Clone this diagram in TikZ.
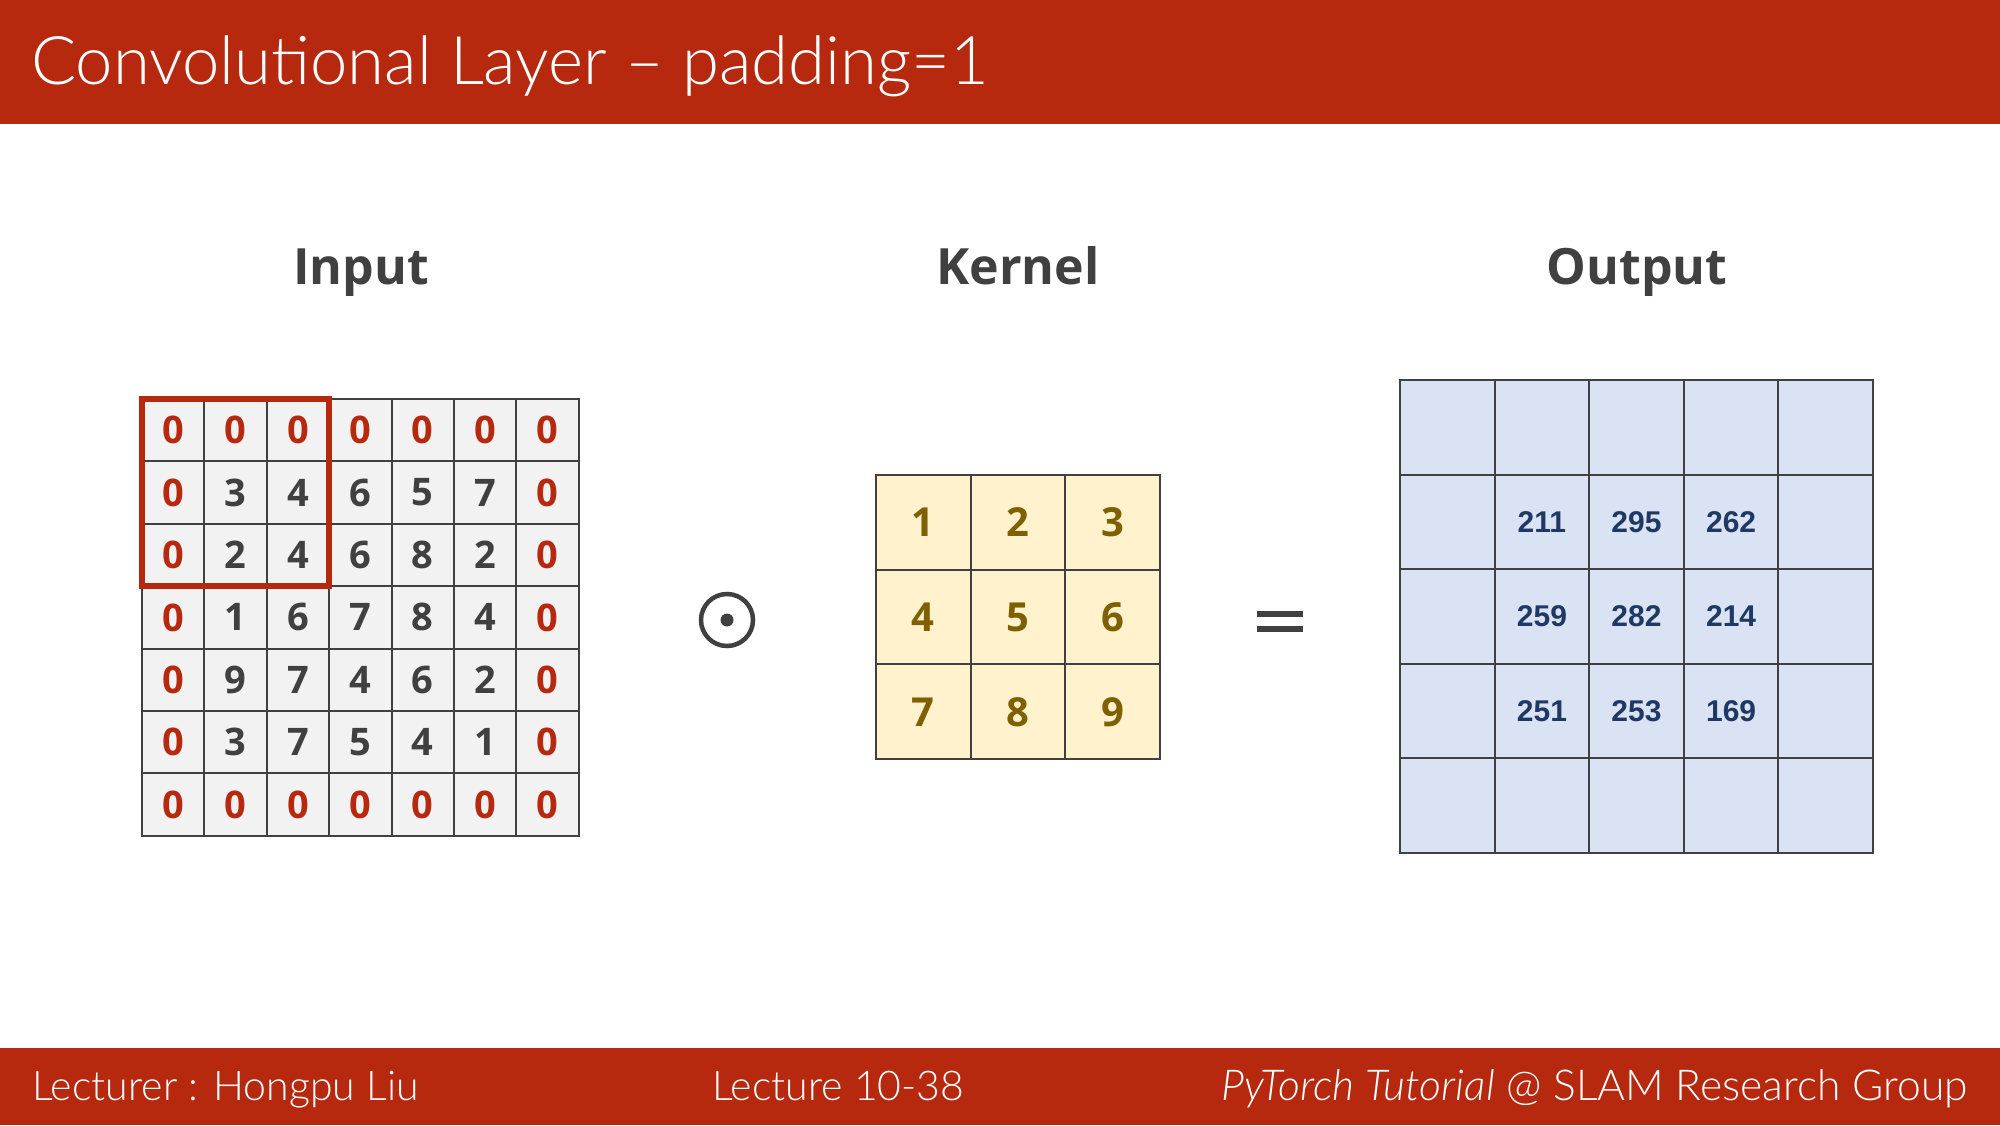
\documentclass[tikz,border=0pt]{standalone}
\usepackage{fontspec}
\setmainfont{Open Sans}
\newfontfamily\thinfont{Lato Light}
\newfontfamily\arialfont{Liberation Sans}
\definecolor{slidered}{RGB}{183,41,15}
\definecolor{inkgray}{RGB}{64,64,64}
\definecolor{inputfill}{RGB}{242,242,242}
\definecolor{kernfill}{RGB}{255,242,204}
\definecolor{kerntext}{RGB}{127,96,0}
\definecolor{outfill}{RGB}{218,227,243}
\definecolor{outtext}{RGB}{32,56,100}
\tikzset{
  cellbase/.style={draw=inkgray, line width=2pt, inner sep=0pt, outer sep=0pt, anchor=center},
  incell/.style={cellbase, fill=inputfill, minimum width=62.4pt, minimum height=62.4pt,
    font=\fontsize{38}{40}\selectfont\bfseries},
  kcell/.style={cellbase, fill=kernfill, minimum width=94.7pt, minimum height=94.7pt,
    text=kerntext, font=\fontsize{40}{42}\selectfont\bfseries},
  ocell/.style={cellbase, fill=outfill, minimum width=94.6pt, minimum height=94.6pt,
    text=outtext, font=\arialfont\fontsize{30}{32}\selectfont\bfseries},
  heading/.style={anchor=base, text=inkgray, font=\fontsize{50}{56}\selectfont\bfseries},
  barText/.style={text=white, inner sep=0pt},
  footText/.style={barText, font=\thinfont\fontsize{41}{48}\selectfont},
  window/.style={draw=slidered, line width=5.5pt}
}
\begin{document}
\begin{tikzpicture}[x=1pt, y=-1pt]
\useasboundingbox (0,0) rectangle (2000,1125);
% title and footer bands
\fill[slidered] (0,0) rectangle (2000,124);
\fill[slidered] (0,1048) rectangle (2000,1125);
\node[barText, anchor=base west, font=\thinfont\fontsize{67}{78}\selectfont] (title) at (31,84)
  {Convolutional Layer \textendash\ padding=1};
\node[footText, anchor=base west] (lecturer) at (32,1100) {Lecturer : Hongpu Liu};
\node[footText, anchor=base west] (lecture) at (712,1100) {Lecture 10-38};
\node[footText, anchor=base east, font=\thinfont\fontsize{42.6}{48}\selectfont] (group) at (1968,1100)
  {\itshape PyTorch Tutorial\upshape\ @ SLAM Research Group};

% headings
\node[heading] (hin) at (361,284) {Input};
\node[heading] (hk) at (1018,284) {Kernel};
\node[heading] (hout) at (1637,284) {Output};

% padded input, 7x7
\foreach \rowvals [count=\r from 0] in {
  {0,0,0,0,0,0,0},
  {0,3,4,6,5,7,0},
  {0,2,4,6,8,2,0},
  {0,1,6,7,8,4,0},
  {0,9,7,4,6,2,0},
  {0,3,7,5,4,1,0},
  {0,0,0,0,0,0,0}} {
  \foreach \v [count=\c from 0] in \rowvals {
    \ifnum\v=0 \def\numcol{slidered}\else\def\numcol{inkgray}\fi
    \node[incell, text=\numcol] (in-\r-\c) at ({142+62.4*(\c+0.5)},{399+62.4*(\r+0.5)}) {\v};
  }
}
% sliding window
\draw[window] (in-0-0.north west) rectangle (in-2-2.south east);

% operator
\node[circle, draw=inkgray, line width=4.5pt, minimum size=52pt, inner sep=0pt] (odot) at (727,620) {};
\fill[inkgray] (odot.center) circle (6.5);

% kernel, 3x3
\foreach \rowvals [count=\r from 0] in {{1,2,3},{4,5,6},{7,8,9}} {
  \foreach \v [count=\c from 0] in \rowvals {
    \node[kcell] (k-\r-\c) at ({876+94.7*(\c+0.5)},{475+94.7*(\r+0.5)}) {\v};
  }
}

% equals sign
\coordinate (eqA) at (1257,614);
\coordinate (eqB) at (1303,614);
\coordinate (eqC) at (1257,628.5);
\coordinate (eqD) at (1303,628.5);
\draw[inkgray, line width=6pt] (eqA) -- (eqB);
\draw[inkgray, line width=6pt] (eqC) -- (eqD);

% output, 5x5
\foreach \rowvals [count=\r from 0] in {
  {,,,,},
  {,211,295,262,},
  {,259,282,214,},
  {,251,253,169,},
  {,,,,}} {
  \foreach \v [count=\c from 0] in \rowvals {
    \node[ocell] (o-\r-\c) at ({1400+94.6*(\c+0.5)},{380+94.6*(\r+0.5)}) {\v};
  }
}
\end{tikzpicture}
\end{document}
